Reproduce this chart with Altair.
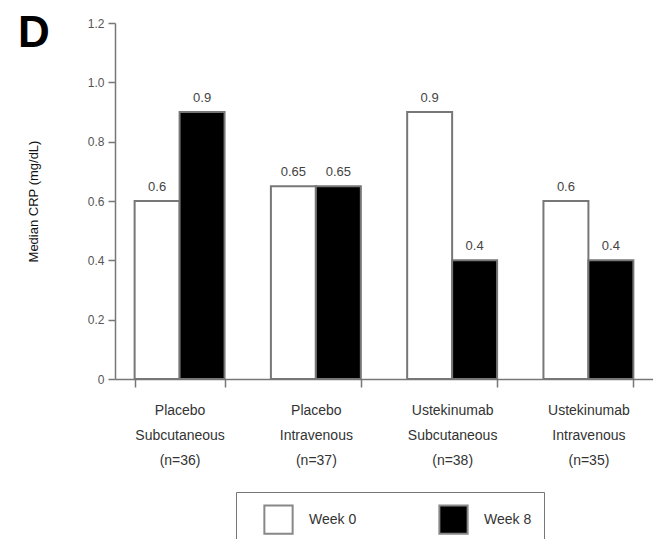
import altair as alt
import pandas as pd

groups = ["Placebo|Subcutaneous|(n=36)", "Placebo|Intravenous|(n=37)",
          "Ustekinumab|Subcutaneous|(n=38)", "Ustekinumab|Intravenous|(n=35)"]
weeks = ["Week 0", "Week 8"]
week0 = [0.6, 0.65, 0.9, 0.6]
week8 = [0.9, 0.65, 0.4, 0.4]
labels0 = ["0.6", "0.65", "0.9", "0.6"]
labels8 = ["0.9", "0.65", "0.4", "0.4"]
panel_letter = ["D"]

rows = []
for g, v0, v8, l0, l8 in zip(groups, week0, week8, labels0, labels8):
    rows.append({"group": g, "week": weeks[0], "value": v0, "label": l0})
    rows.append({"group": g, "week": weeks[1], "value": v8, "label": l8})
df = pd.DataFrame(rows)

FONT = "Liberation Sans"

x = alt.X("group:N", sort=groups,
          scale=alt.Scale(paddingInner=0.34, paddingOuter=0.144),
          axis=alt.Axis(title=None, labelAngle=0, labelExpr="split(datum.label, '|')",
                        labelFontSize=14, labelColor="#333", labelFont=FONT,
                        labelLineHeight=25, labelPadding=16, labelBaseline="top",
                        tickBand="extent", ticks=True, tickSize=8, tickColor="#777",
                        domainColor="#777", domainWidth=1.5, tickWidth=1.5,
                        labelLimit=200))
xo = alt.XOffset("week:N", sort=weeks)
y = alt.Y("value:Q", scale=alt.Scale(domain=[0, 1.2]),
          axis=alt.Axis(title="Median CRP (mg/dL)", values=[0, 0.2, 0.4, 0.6, 0.8, 1.0, 1.2],
                        labelExpr="datum.value == 0 ? '0' : format(datum.value, '.1f')",
                        grid=False, tickSize=7, tickColor="#777", domainColor="#777",
                        domainWidth=1.5, tickWidth=1.5,
                        labelFontSize=12, labelColor="#555", labelFont=FONT, labelPadding=4,
                        titleFontSize=13, titleFont=FONT, titleColor="#111",
                        titleFontWeight="normal", titleAngle=-90, titleX=-82, titleY=178,
                        titleAlign="center", titleBaseline="middle"))

bars = alt.Chart(df).mark_bar(stroke="#777", strokeWidth=2).encode(
    x=x, xOffset=xo, y=y,
    fill=alt.Fill("week:N", sort=weeks,
                  scale=alt.Scale(domain=weeks, range=["white", "black"]),
                  legend=alt.Legend(title=None, orient="none", legendX=121, legendY=469,
                                    direction="horizontal", symbolType="square",
                                    symbolSize=800, symbolStrokeColor="#888",
                                    symbolStrokeWidth=2, labelFontSize=14, labelFont=FONT,
                                    labelColor="#333", labelOffset=15, columnPadding=66,
                                    padding=12, symbolOffset=15, strokeColor="#777")),
)

text = alt.Chart(df).mark_text(dy=-14, fontSize=13, font=FONT, color="#444").encode(
    x=x, xOffset=xo, y=y, text="label:N"
)

letter = alt.Chart(pd.DataFrame({"t": panel_letter})).mark_text(
    fontSize=44, fontWeight="bold", font=FONT, color="black",
    align="left", baseline="alphabetic"
).encode(x=alt.value(-97), y=alt.value(24), text="t:N")

chart = alt.layer(bars, text, letter).properties(
    width=538, height=356,
    autosize=alt.AutoSizeParams(type="none"),
    padding={"left": 107, "top": 15, "right": 0, "bottom": 160},
).configure_view(stroke=None)

chart.save("out.html", embed_options={"renderer": "svg", "actions": False})
